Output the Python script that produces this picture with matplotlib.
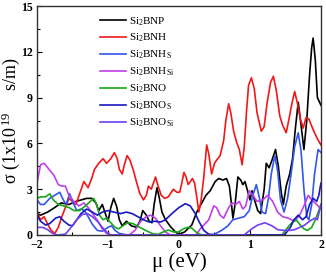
import matplotlib
matplotlib.use('Agg')
import matplotlib.pyplot as plt
from matplotlib.ticker import MultipleLocator

plt.rcParams['font.family'] = ['Liberation Serif', 'DejaVu Serif']
plt.rcParams['mathtext.default'] = 'regular'

# sigma (1e19 s/m) vs mu (eV) as (mu, sigma)
bnp = [(-2.0, 1.4), (-1.95, 1.3), (-1.85, 1.5), (-1.75, 1.8), (-1.66, 2.1), (-1.55, 2.0),
       (-1.45, 2.2), (-1.3, 2.4), (-1.23, 2.4), (-1.17, 2.1), (-1.13, 1.6), (-1.08, 2.0),
       (-1.03, 1.3), (-1.0, 0.9), (-0.96, 1.8), (-0.92, 2.4), (-0.88, 1.9), (-0.84, 1.0),
       (-0.8, 0.6), (-0.74, 0.9), (-0.67, 0.6), (-0.6, 0.5), (-0.55, 0.9), (-0.51, 1.6),
       (-0.46, 1.3), (-0.42, 0.9), (-0.38, 0.8), (-0.35, 2.0), (-0.31, 3.1), (-0.28, 2.5),
       (-0.24, 1.5), (-0.19, 1.0), (-0.12, 0.55), (-0.05, 0.2), (0.0, 0.05), (0.08, 0.2),
       (0.18, 0.65), (0.25, 1.5), (0.31, 2.0), (0.38, 2.6), (0.44, 2.9), (0.51, 3.5),
       (0.56, 3.7), (0.62, 3.6), (0.67, 3.7), (0.71, 3.2), (0.74, 2.0), (0.76, 1.1),
       (0.79, 2.0), (0.83, 3.8), (0.87, 3.6), (0.9, 3.3), (0.93, 3.5), (0.96, 3.0),
       (1.0, 2.3), (1.03, 2.9), (1.07, 2.2), (1.11, 1.6), (1.15, 1.4), (1.2, 3.0),
       (1.23, 4.7), (1.27, 4.4), (1.31, 4.9), (1.36, 5.6), (1.4, 4.5), (1.44, 2.8),
       (1.47, 2.0), (1.51, 3.2), (1.56, 4.0), (1.6, 5.0), (1.64, 7.0), (1.68, 8.7),
       (1.72, 7.2), (1.76, 5.6), (1.8, 7.5), (1.84, 10.5), (1.87, 12.3), (1.89, 12.9),
       (1.92, 11.5), (1.95, 9.0), (2.0, 8.5)]

bnh = [(-2.0, 1.5), (-1.95, 1.0), (-1.9, 1.2), (-1.85, 0.7), (-1.8, 0.3), (-1.75, 0.1),
       (-1.7, 0.5), (-1.65, 1.2), (-1.6, 1.8), (-1.55, 2.4), (-1.5, 2.2), (-1.45, 2.0),
       (-1.4, 2.7), (-1.34, 3.5), (-1.28, 3.1), (-1.23, 3.7), (-1.19, 4.3), (-1.13, 4.7),
       (-1.07, 5.0), (-1.02, 4.7), (-0.96, 5.0), (-0.91, 5.4), (-0.87, 5.0), (-0.84, 4.3),
       (-0.8, 4.0), (-0.77, 4.6), (-0.73, 5.2), (-0.69, 4.9), (-0.64, 4.2), (-0.6, 3.5),
       (-0.55, 2.7), (-0.5, 2.3), (-0.46, 2.6), (-0.43, 3.2), (-0.39, 3.0), (-0.33, 3.8),
       (-0.3, 3.3), (-0.25, 2.6), (-0.2, 2.4), (-0.15, 2.5), (-0.08, 3.0), (-0.03, 2.8),
       (0.01, 2.8), (0.04, 3.4), (0.07, 4.1), (0.1, 3.8), (0.13, 3.3), (0.19, 3.7),
       (0.22, 3.4), (0.25, 2.5), (0.28, 1.5), (0.31, 2.2), (0.35, 3.8), (0.39, 5.9),
       (0.42, 5.3), (0.46, 4.0), (0.5, 4.7), (0.53, 4.9), (0.58, 5.2), (0.63, 6.2),
       (0.66, 7.5), (0.7, 8.6), (0.73, 8.0), (0.77, 6.8), (0.81, 6.1), (0.85, 5.6),
       (0.89, 4.6), (0.92, 5.8), (0.95, 8.0), (0.98, 9.8), (1.02, 10.3), (1.06, 9.6),
       (1.1, 8.0), (1.16, 6.8), (1.2, 7.1), (1.24, 8.6), (1.29, 10.0), (1.33, 10.4),
       (1.37, 9.5), (1.42, 7.8), (1.46, 7.2), (1.51, 6.7), (1.55, 7.6), (1.59, 8.6),
       (1.63, 9.4), (1.67, 8.6), (1.71, 7.6), (1.75, 7.0), (1.79, 7.7), (1.83, 7.6),
       (1.89, 6.9), (1.95, 6.3), (2.0, 5.9)]

bnh_s = [(-2.0, 2.3), (-1.95, 2.0), (-1.9, 2.0), (-1.82, 2.4), (-1.75, 2.6), (-1.68, 2.8),
         (-1.63, 2.3), (-1.59, 2.0), (-1.54, 2.7), (-1.5, 2.2), (-1.44, 1.6), (-1.38, 1.7),
         (-1.33, 1.6), (-1.28, 1.2), (-1.22, 0.7), (-1.15, 0.3), (-1.08, 0.25), (-1.0, 0.5),
         (-0.95, 0.6), (-0.9, 0.3), (-0.84, 0.1), (-0.75, 0.02), (-0.6, 0.0), (0.3, 0.0),
         (0.5, 0.05), (0.6, 0.3), (0.69, 0.6), (0.76, 1.0), (0.84, 1.1), (0.92, 1.2),
         (0.99, 1.6), (1.04, 2.6), (1.09, 3.3), (1.13, 2.5), (1.17, 1.5), (1.22, 1.4),
         (1.26, 2.4), (1.3, 4.0), (1.35, 5.2), (1.39, 4.2), (1.43, 2.3), (1.48, 1.5),
         (1.53, 2.4), (1.58, 4.0), (1.63, 5.8), (1.68, 6.7), (1.72, 5.5), (1.76, 3.0),
         (1.8, 1.2), (1.83, 1.0), (1.87, 2.0), (1.91, 4.0), (1.96, 5.6), (2.0, 5.4)]

bnh_si = [(-2.0, 3.4), (-1.95, 4.6), (-1.9, 4.7), (-1.83, 4.3), (-1.76, 3.9), (-1.7, 3.3),
          (-1.65, 3.2), (-1.6, 3.2), (-1.55, 2.6), (-1.48, 2.2), (-1.41, 1.9), (-1.34, 2.1),
          (-1.28, 1.8), (-1.2, 1.3), (-1.14, 0.9), (-1.08, 0.4), (-1.02, 0.1), (-0.97, 0.0),
          (-0.7, 0.0), (-0.62, 0.3), (-0.54, 0.9), (-0.46, 1.2), (-0.4, 1.3), (-0.33, 1.1),
          (-0.26, 0.6), (-0.19, 0.2), (-0.12, 0.0), (0.24, 0.0), (0.3, 0.4), (0.36, 0.7),
          (0.42, 1.0), (0.49, 1.9), (0.53, 1.8), (0.58, 1.3), (0.63, 1.1), (0.7, 1.8),
          (0.75, 2.1), (0.8, 2.0), (0.85, 2.2), (0.9, 1.7), (0.94, 1.9), (0.99, 2.9),
          (1.04, 2.6), (1.1, 2.2), (1.18, 2.3), (1.25, 2.6), (1.32, 2.2), (1.39, 1.5),
          (1.46, 1.2), (1.54, 1.1), (1.63, 0.9), (1.7, 1.3), (1.77, 2.0), (1.82, 2.6),
          (1.87, 2.3), (1.94, 2.0), (2.0, 1.7)]

bno = [(-2.0, 2.4), (-1.95, 2.5), (-1.88, 2.5), (-1.82, 2.7), (-1.77, 2.3), (-1.7, 2.0),
       (-1.62, 1.9), (-1.55, 1.8), (-1.48, 1.6), (-1.4, 1.6), (-1.32, 1.9), (-1.25, 2.2),
       (-1.2, 2.4), (-1.16, 2.0), (-1.12, 1.3), (-1.07, 1.0), (-1.02, 1.1), (-0.96, 0.8),
       (-0.9, 0.5), (-0.85, 0.4), (-0.79, 0.6), (-0.72, 0.8), (-0.65, 0.75), (-0.57, 0.55),
       (-0.47, 0.3), (-0.38, 0.1), (-0.3, 0.03), (-0.22, 0.2), (-0.15, 0.33), (-0.08, 0.2),
       (0.0, 0.2), (0.06, 0.4), (0.12, 0.5), (0.18, 0.45), (0.24, 0.2), (0.3, 0.03),
       (0.36, 0.0), (1.45, 0.0), (1.5, 0.3), (1.55, 0.6), (1.6, 0.85), (1.65, 1.0),
       (1.7, 0.7), (1.76, 0.4), (1.81, 0.3), (1.87, 0.5), (1.93, 1.1), (1.97, 1.6), (2.0, 2.0)]

bno_s = [(-2.0, 1.3), (-1.95, 0.9), (-1.88, 0.65), (-1.82, 0.75), (-1.74, 1.1), (-1.68, 1.2),
         (-1.62, 0.9), (-1.55, 0.65), (-1.5, 0.6), (-1.44, 1.0), (-1.38, 1.4), (-1.3, 1.7),
         (-1.22, 1.5), (-1.15, 1.3), (-1.08, 1.5), (-1.0, 1.6), (-0.92, 1.5), (-0.82, 1.4),
         (-0.74, 1.5), (-0.66, 1.4), (-0.58, 1.2), (-0.5, 1.0), (-0.42, 0.85), (-0.34, 0.9),
         (-0.26, 0.85), (-0.19, 1.0), (-0.1, 1.4), (0.0, 1.8), (0.09, 2.05), (0.16, 1.9),
         (0.23, 1.4), (0.28, 0.9), (0.35, 0.3), (0.42, 0.05), (0.48, 0.0), (1.48, 0.0),
         (1.52, 0.2), (1.57, 0.5), (1.62, 1.0), (1.68, 1.3), (1.74, 1.0), (1.79, 1.2),
         (1.84, 2.0), (1.89, 2.4), (1.94, 2.2), (1.97, 2.6), (2.0, 3.4)]

bno_si = [(-2.0, 0.5), (-1.92, 0.5), (-1.85, 0.35), (-1.78, 0.1), (-1.72, 0.0), (-1.6, 0.05),
          (-1.52, 0.5), (-1.44, 1.0), (-1.36, 1.35), (-1.29, 1.4), (-1.22, 1.2), (-1.15, 0.9),
          (-1.08, 0.5), (-1.02, 0.2), (-0.96, 0.0), (0.92, 0.0), (0.97, 0.2), (1.04, 0.45),
          (1.11, 0.65), (1.21, 0.8), (1.31, 0.6), (1.39, 0.35), (1.48, 0.3), (1.56, 0.3),
          (1.63, 0.35), (1.7, 0.5), (1.77, 0.65), (1.84, 0.9), (1.91, 1.1), (1.95, 1.0),
          (2.0, 2.0)]

labels = ['Si$_2$BNP', 'Si$_2$BNH', 'Si$_2$BNH$_S$', 'Si$_2$BNH$_{Si}$',
          'Si$_2$BNO', 'Si$_2$BNO$_S$', 'Si$_2$BNO$_{Si}$']
colors = ['black', '#f01818', '#3355f0', '#c040e8', '#18a818', '#1818c0', '#7040f0']
series = [bnp, bnh, bnh_s, bnh_si, bno, bno_s, bno_si]

fig = plt.figure(figsize=(3.26, 2.75), dpi=100)
ax = fig.add_axes([0.1135, 0.1455, 0.871, 0.8325])

for s, lab, col in zip(series, labels, colors):
    xs = [p[0] for p in s]
    ys = [p[1] for p in s]
    ax.plot(xs, ys, color=col, lw=1.2, label=lab)

ax.set_xlim(-2, 2)
ax.set_ylim(0, 15)
ax.xaxis.set_major_locator(MultipleLocator(1))
ax.xaxis.set_minor_locator(MultipleLocator(0.5))
ax.yaxis.set_major_locator(MultipleLocator(3))
ax.yaxis.set_minor_locator(MultipleLocator(1.5))
ax.tick_params(which='both', direction='in', top=False, right=False)
ax.tick_params(which='major', length=3.5, width=0.8, labelsize=8.5, pad=3)
ax.tick_params(which='minor', length=2, width=0.8)
for t in ax.get_xticklabels() + ax.get_yticklabels():
    t.set_fontweight('bold')
for sp in ax.spines.values():
    sp.set_linewidth(1.0)
    sp.set_color('#333333')

ax.set_xlabel('μ (eV)', fontsize=15, labelpad=1)
ax.set_ylabel('σ (1x10$^{\\,19}$     s/m)', fontsize=13)
ax.yaxis.set_label_coords(-0.052, 0.5)

ax.legend(loc='upper left', bbox_to_anchor=(0.2, 0.99), frameon=False, fontsize=8,
          handlelength=2.3, handletextpad=0.3, labelspacing=0.4, borderaxespad=0.2)

fig.savefig('out.png', dpi=100)
